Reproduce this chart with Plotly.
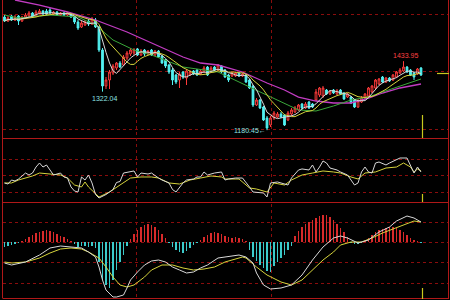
import plotly.graph_objects as go
import pandas as pd

# ---------------- data ----------------
open_ = [1596.2, 1581.5, 1599.9, 1585.2, 1599.9, 1581.5, 1592.6, 1599.9, 1610.9, 1599.9,
         1610.9, 1618.3, 1618.3, 1622.0, 1607.3, 1614.6, 1603.6, 1610.9, 1603.6, 1607.3,
         1596.2, 1577.9, 1559.5, 1566.9, 1581.5, 1570.5, 1585.2, 1559.5, 1475.0, 1342.7,
         1364.8, 1390.5, 1408.9, 1427.2, 1419.9, 1445.6, 1460.3, 1464.0, 1478.7, 1456.6,
         1475.0, 1460.3, 1475.0, 1456.6, 1471.3, 1453.0, 1438.3, 1419.9, 1401.5, 1383.1,
         1364.8, 1394.2, 1372.1, 1383.1, 1397.8, 1401.5, 1386.8, 1394.2, 1412.5, 1394.2,
         1412.5, 1401.5, 1416.2, 1401.5, 1383.1, 1379.5, 1379.5, 1390.5, 1379.5, 1383.1,
         1364.8, 1342.7, 1272.9, 1291.3, 1265.6, 1225.2, 1199.4, 1225.2, 1228.8, 1239.9,
         1236.2, 1217.8, 1239.9, 1247.2, 1254.6, 1276.6, 1261.9, 1283.9, 1276.6, 1291.3,
         1309.7, 1306.0, 1328.0, 1313.3, 1328.0, 1313.3, 1328.0, 1317.0, 1302.3, 1302.3,
         1291.3, 1265.6, 1283.9, 1298.6, 1306.0, 1320.7, 1335.4, 1350.1, 1375.8, 1357.4,
         1372.1, 1364.8, 1375.8, 1390.5, 1397.8, 1412.5, 1401.5, 1390.5, 1386.8, 1408.9]
high_ = [1603.6, 1599.9, 1603.6, 1603.6, 1603.6, 1599.9, 1610.9, 1618.3, 1614.6, 1622.0,
         1625.6, 1622.0, 1625.6, 1629.3, 1618.3, 1618.3, 1614.6, 1614.6, 1614.6, 1610.9,
         1599.9, 1585.2, 1581.5, 1585.2, 1588.9, 1596.2, 1592.6, 1563.2, 1482.3, 1375.8,
         1401.5, 1423.6, 1430.9, 1434.6, 1456.6, 1471.3, 1482.3, 1482.3, 1482.3, 1478.7,
         1478.7, 1475.0, 1478.7, 1475.0, 1475.0, 1456.6, 1441.9, 1423.6, 1408.9, 1386.8,
         1394.2, 1397.8, 1405.2, 1401.5, 1401.5, 1405.2, 1405.2, 1416.2, 1416.2, 1416.2,
         1416.2, 1423.6, 1419.9, 1405.2, 1386.8, 1394.2, 1394.2, 1394.2, 1390.5, 1386.8,
         1368.5, 1346.4, 1298.6, 1295.0, 1269.3, 1232.5, 1232.5, 1250.9, 1247.2, 1247.2,
         1239.9, 1250.9, 1261.9, 1269.3, 1276.6, 1280.3, 1283.9, 1287.6, 1280.3, 1331.7,
         1339.1, 1342.7, 1331.7, 1328.0, 1331.7, 1331.7, 1331.7, 1320.7, 1317.0, 1306.0,
         1295.0, 1295.0, 1306.0, 1317.0, 1339.1, 1346.4, 1368.5, 1372.1, 1379.5, 1375.8,
         1375.8, 1386.8, 1397.8, 1408.9, 1433.95, 1416.2, 1405.2, 1394.2, 1408.9, 1412.5]
low_ = [1577.9, 1577.9, 1581.5, 1581.5, 1566.9, 1577.9, 1588.9, 1596.2, 1596.2, 1596.2,
        1607.3, 1603.6, 1603.6, 1607.3, 1603.6, 1599.9, 1599.9, 1599.9, 1599.9, 1592.6,
        1570.5, 1548.5, 1555.8, 1563.2, 1563.2, 1566.9, 1555.8, 1467.6, 1322.04, 1331.7,
        1331.7, 1383.1, 1401.5, 1408.9, 1416.2, 1438.3, 1453.0, 1456.6, 1453.0, 1453.0,
        1453.0, 1456.6, 1453.0, 1453.0, 1445.6, 1423.6, 1408.9, 1386.8, 1346.4, 1350.1,
        1335.4, 1368.5, 1346.4, 1379.5, 1383.1, 1379.5, 1383.1, 1390.5, 1379.5, 1390.5,
        1397.8, 1397.8, 1390.5, 1372.1, 1357.4, 1375.8, 1375.8, 1375.8, 1375.8, 1353.8,
        1331.7, 1265.6, 1269.3, 1258.2, 1214.2, 1180.45, 1192.1, 1217.8, 1225.2, 1225.2,
        1195.8, 1214.2, 1232.5, 1243.5, 1250.9, 1254.6, 1258.2, 1258.2, 1261.9, 1287.6,
        1302.3, 1298.6, 1309.7, 1309.7, 1313.3, 1309.7, 1309.7, 1291.3, 1298.6, 1276.6,
        1261.9, 1261.9, 1280.3, 1295.0, 1302.3, 1317.0, 1331.7, 1346.4, 1353.8, 1353.8,
        1357.4, 1361.1, 1372.1, 1386.8, 1394.2, 1390.5, 1379.5, 1364.8, 1383.1, 1379.5]
close_ = [1581.5, 1592.6, 1585.2, 1596.2, 1581.5, 1596.2, 1603.6, 1610.9, 1599.9, 1614.6,
          1618.3, 1607.3, 1607.3, 1610.9, 1614.6, 1603.6, 1610.9, 1603.6, 1610.9, 1596.2,
          1577.9, 1555.8, 1574.2, 1577.9, 1570.5, 1588.9, 1559.5, 1475.0, 1342.7, 1364.8,
          1394.2, 1416.2, 1427.2, 1412.5, 1449.3, 1464.0, 1475.0, 1475.0, 1456.6, 1471.3,
          1460.3, 1471.3, 1456.6, 1471.3, 1449.3, 1427.2, 1416.2, 1394.2, 1364.8, 1357.4,
          1386.8, 1375.8, 1397.8, 1394.2, 1386.8, 1383.1, 1397.8, 1408.9, 1383.1, 1408.9,
          1401.5, 1419.9, 1394.2, 1375.8, 1364.8, 1390.5, 1390.5, 1379.5, 1386.8, 1357.4,
          1335.4, 1272.9, 1291.3, 1261.9, 1217.8, 1188.4, 1225.2, 1243.5, 1239.9, 1228.8,
          1199.4, 1243.5, 1254.6, 1261.9, 1272.9, 1261.9, 1276.6, 1261.9, 1265.6, 1320.7,
          1335.4, 1335.4, 1313.3, 1324.4, 1317.0, 1324.4, 1313.3, 1295.0, 1313.3, 1280.3,
          1265.6, 1287.6, 1298.6, 1313.3, 1335.4, 1342.7, 1364.8, 1368.5, 1357.4, 1372.1,
          1361.1, 1383.1, 1394.2, 1401.5, 1412.5, 1394.2, 1383.1, 1375.8, 1405.2, 1383.1]
idx = list(range(len(close_)))

# longer moving averages (they start before the window)
ma20_idx = [0, 4, 13, 21, 26, 31, 37, 42, 51, 61, 70, 78, 84, 89, 94, 99, 104, 108, 113, 119]
ma20_val = [1603.6, 1592.6, 1603.6, 1596.2, 1566.9, 1511.7, 1475.0, 1456.6, 1412.5, 1394.2,
            1339.1, 1291.3, 1254.6, 1250.9, 1269.3, 1291.3, 1302.3, 1320.7, 1342.7, 1368.5]
ma60_idx = [3, 10, 18, 26, 35, 42, 51, 56, 61, 68, 75, 80, 84, 89, 94, 99, 104, 108, 113, 119]
ma60_val = [1658.7, 1640.3, 1614.6, 1585.2, 1541.1, 1500.7, 1449.3, 1427.2, 1419.9, 1394.2,
            1353.8, 1328.0, 1302.3, 1287.6, 1280.3, 1280.3, 1298.6, 1317.0, 1335.4, 1350.1]

# oscillator panel
osc1_idx = [0, 1, 2, 3, 4, 6, 7, 8, 9, 10, 11, 12, 13, 14, 16, 17, 18, 19, 20, 21, 22, 23, 24,
            25, 26, 27, 29, 31, 32, 33, 34, 36, 37, 38, 39, 41, 42, 44, 45, 47, 48, 49, 51, 52,
            54, 55, 56, 57, 58, 60, 62, 63, 64, 66, 68, 70, 71, 74, 75, 76, 78, 79, 81, 82, 84,
            85, 87, 88, 89, 90, 91, 92, 93, 95, 96, 98, 99, 100, 101, 102, 103, 104, 105, 106,
            107, 109, 110, 112, 113, 115, 116, 117, 118, 119]
osc1_val = [35.5, 33.6, 40.9, 39.1, 42.7, 53.6, 50, 53.6, 64.5, 71.8, 64.5, 68.2, 59.1, 50,
            53.6, 46.4, 44.5, 28.2, 20.9, 19.1, 46.4, 40.9, 50, 35.5, 14.5, 8.2, 14.5, 23.6,
            36.4, 38.2, 53.6, 55.5, 57.3, 46.4, 53.6, 51.8, 53.6, 44.5, 40.9, 35.5, 23.6, 19.1,
            35.5, 40.9, 42.7, 46.4, 46.4, 55.5, 50, 53.6, 55.5, 40.9, 42.7, 44.5, 44.5, 28.2,
            19.1, 17.3, 10, 35.5, 37.3, 35.5, 31.8, 44.5, 59.1, 61, 59.1, 68.2, 55.5, 64.5,
            75.5, 71.8, 62.7, 59.1, 55.5, 50, 40.9, 31.8, 35.5, 55.5, 64.5, 55.5, 53.6, 71.8,
            73.6, 68.2, 71.8, 77.3, 80.9, 80.9, 68.2, 53.6, 64.5, 55.5]
osc2_idx = [0, 2, 4, 8, 10, 13, 16, 18, 20, 22, 23, 24, 27, 30, 33, 36, 39, 42, 44, 47, 50, 53,
            56, 59, 62, 63, 67, 70, 72, 75, 77, 80, 82, 85, 88, 91, 94, 96, 99, 101, 103, 106,
            109, 112, 114, 116, 117, 118, 119]
osc2_val = [35.5, 35.5, 40.9, 48.2, 53.6, 51.8, 50, 44.5, 31.8, 28.2, 37.3, 28.2, 10, 19.1,
            31.8, 44.5, 46.4, 46.4, 44.5, 35.5, 33.6, 40.9, 44.5, 48.2, 46.4, 42.7, 42.7, 26.4,
            24.5, 19.1, 35.5, 31.8, 40.9, 50, 53.6, 57.3, 55.5, 53.6, 46.4, 42.7, 53.6, 55.5,
            62.7, 64.5, 71.8, 64.5, 55.5, 60.9, 57.3]

# MACD panel
macd_hist = [-2.5, -2, -1.5, -1, -0.5, 0.5, 1.5, 2.5, 3.5, 4.5,
             5, 5.5, 6, 5.5, 5, 4, 3, 2.5, 1.5, 0.5,
             -1, -2.5, -2, -2, -2.5, -2, -3, -10, -19, -21.5,
             -23, -19, -14, -10, -6.5, -2, 1.5, 4, 6, 7.5,
             8.5, 9, 8.5, 7.5, 6, 4, 2, -0.5, -2.5, -4,
             -5, -5.5, -4.5, -3, -1.5, -0.5, 1, 2.5, 3.5, 4.5,
             5, 4.5, 4, 3, 2.5, 2, 2.5, 2, 1.5, 0.5,
             -4, -7.5, -9.5, -11.5, -13, -14.5, -15, -12, -10, -8,
             -6.5, -4, -2, 3, 5.5, 7.5, 9, 10, 11, 12,
             13, 13.5, 13.5, 12.5, 11, 9, 7, 5, 2.5, -0.5,
             -1, -1, -0.5, 0.5, 2, 3.5, 5, 6, 6.5, 7,
             7.5, 7.5, 7, 6, 5, 3.5, 2, 1, 0.5, -0.5]
dif_idx = [0, 2, 6, 10, 13, 16, 19, 22, 24, 26, 27, 28, 29, 31, 32, 34, 35, 36, 38, 40, 42, 44,
           46, 48, 50, 52, 54, 56, 58, 61, 63, 67, 69, 71, 72, 74, 76, 79, 82, 85, 88, 91, 94,
           96, 98, 101, 104, 107, 110, 112, 115, 117, 119]
dif_val = [-10.5, -11.5, -10, -6.5, -3, -2, -2.5, -3, -5, -7.5, -12.5, -19, -24, -27.5, -27.5,
           -26.5, -23, -19, -15, -11.5, -9.5, -9, -10, -12.5, -14, -15.5, -15, -13, -11.5, -8,
           -7.5, -6.5, -7.5, -10.5, -15.5, -21.5, -23.5, -23, -21.5, -16.5, -9, -2.5, 2, 3, 2,
           -0.5, 1, 5, 7.5, 10.5, 13, 12, 10]
dea_idx = [0, 2, 6, 10, 13, 16, 19, 22, 24, 27, 29, 31, 33, 35, 37, 40, 42, 45, 48, 51, 54, 57,
           60, 63, 68, 69, 72, 75, 79, 82, 85, 88, 91, 94, 96, 99, 102, 105, 108, 111, 114,
           117, 119]
dea_val = [-10, -10.5, -10, -8, -5.5, -3.5, -3, -3.5, -5, -8, -12.5, -17.5, -21.5, -22.5,
           -21.5, -17.5, -14, -11.5, -11.5, -13, -14, -13.5, -12.5, -10, -7.5, -8, -12.5,
           -16.5, -20, -21.5, -19, -14, -9, -5, -1.5, 0, 0, 2, 4.5, 6.5, 8.5, 10.5, 10]

# ---------------- figure ----------------
W, H = 450, 300
ma5 = pd.Series(close_).rolling(5, min_periods=1).mean()
ma10 = pd.Series(close_).rolling(10, min_periods=1).mean()

RED = "#ff3b3b"
CYAN = "#52f2f2"
WHITE = "#d8d8d8"
YEL = "#d6d43c"

fig = go.Figure()
fig.add_trace(go.Candlestick(
    x=idx, open=open_, high=high_, low=low_, close=close_,
    increasing=dict(line=dict(color=RED, width=1), fillcolor="black"),
    decreasing=dict(line=dict(color=CYAN, width=1), fillcolor=CYAN),
    whiskerwidth=0, xaxis="x", yaxis="y", hoverinfo="skip"))
fig.add_trace(go.Scatter(x=ma60_idx, y=ma60_val, mode="lines",
                         line=dict(color="#c23cc2", width=1.3), xaxis="x", yaxis="y"))
fig.add_trace(go.Scatter(x=ma20_idx, y=ma20_val, mode="lines",
                         line=dict(color="#3aa83a", width=1), xaxis="x", yaxis="y"))
fig.add_trace(go.Scatter(x=idx, y=ma10, mode="lines",
                         line=dict(color=YEL, width=1), xaxis="x", yaxis="y"))
fig.add_trace(go.Scatter(x=idx, y=ma5, mode="lines",
                         line=dict(color=WHITE, width=1), xaxis="x", yaxis="y"))

fig.add_trace(go.Scatter(x=osc2_idx, y=osc2_val, mode="lines",
                         line=dict(color=YEL, width=1), xaxis="x2", yaxis="y2"))
fig.add_trace(go.Scatter(x=osc1_idx, y=osc1_val, mode="lines",
                         line=dict(color=WHITE, width=1), xaxis="x2", yaxis="y2"))

fig.add_trace(go.Bar(x=idx, y=macd_hist, width=0.24,
                     marker=dict(color=["#d82a2a" if v > 0 else "#3ccaca" for v in macd_hist],
                                 line=dict(width=0)),
                     xaxis="x3", yaxis="y3"))
fig.add_trace(go.Scatter(x=dea_idx, y=dea_val, mode="lines",
                         line=dict(color=YEL, width=1), xaxis="x3", yaxis="y3"))
fig.add_trace(go.Scatter(x=dif_idx, y=dif_val, mode="lines",
                         line=dict(color=WHITE, width=1), xaxis="x3", yaxis="y3"))


def py(p):
    return 1 - p / H


def px(p):
    return p / W


x0px, dx = 4.5, 3.5
xr = [-x0px / dx, (W - x0px) / dx]

shapes = []
GRID = "#8a0d0d"
SOLID = "#b01818"
for yy in [14, 71, 129, 159, 175, 192, 222, 242, 262, 283]:
    shapes.append(dict(type="line", xref="paper", yref="paper", x0=px(3), x1=px(449),
                       y0=py(yy + 0.5), y1=py(yy + 0.5), layer="below",
                       line=dict(color=GRID, width=1, dash="dot")))
for yy in [138, 202, 298]:
    shapes.append(dict(type="line", xref="paper", yref="paper", x0=px(3), x1=px(449),
                       y0=py(yy + 0.5), y1=py(yy + 0.5), layer="below",
                       line=dict(color=SOLID, width=1)))
for xx in [136.5, 271.5]:
    shapes.append(dict(type="line", xref="paper", yref="paper", x0=px(xx), x1=px(xx),
                       y0=py(0), y1=py(298), layer="below",
                       line=dict(color=GRID, width=1, dash="dot")))
for xx in [2.5, 448.5]:
    shapes.append(dict(type="line", xref="paper", yref="paper", x0=px(xx), x1=px(xx),
                       y0=py(0), y1=py(298.5), layer="below",
                       line=dict(color=SOLID, width=1)))
for (a, b) in [(115, 138), (194, 202), (288, 299)]:
    shapes.append(dict(type="line", xref="paper", yref="paper", x0=px(422.5), x1=px(422.5),
                       y0=py(a), y1=py(b), line=dict(color="#c8c81e", width=1.2)))
shapes.append(dict(type="line", xref="paper", yref="paper", x0=px(437), x1=px(449),
                   y0=py(73.5), y1=py(73.5), line=dict(color="#c8c81e", width=1.2)))

annotations = [
    dict(x=28, y=1322.04, xref="x", yref="y", text="1322.04", showarrow=False,
         xanchor="center", yanchor="top", xshift=1.5, yshift=-1,
         font=dict(size=7, color="#8fe3e3", family="Liberation Sans")),
    dict(x=75, y=1180.45, xref="x", yref="y", text="1180.45\u2190", showarrow=False,
         xanchor="right", yanchor="middle", xshift=1,
         font=dict(size=7, color="#8fe3e3", family="Liberation Sans")),
    dict(x=114, y=1433.95, xref="x", yref="y", text="1433.95", showarrow=False,
         xanchor="center", yanchor="bottom", xshift=1.5, yshift=0,
         font=dict(size=7, color="#ff4040", family="Liberation Sans")),
]

fig.update_layout(
    width=W, height=H, margin=dict(l=0, r=0, t=0, b=0),
    paper_bgcolor="black", plot_bgcolor="rgba(0,0,0,0)", showlegend=False,
    bargap=0,
    xaxis=dict(domain=[0, 1], range=xr, visible=False, anchor="y",
               rangeslider=dict(visible=False)),
    xaxis2=dict(domain=[0, 1], range=xr, visible=False, anchor="y2"),
    xaxis3=dict(domain=[0, 1], range=xr, visible=False, anchor="y3"),
    yaxis=dict(domain=[py(138), 1], range=[1151.7, 1658.7], visible=False, anchor="x"),
    yaxis2=dict(domain=[py(202), py(138)], range=[0.91, 117.27], visible=False, anchor="x2"),
    yaxis3=dict(domain=[py(298), py(202)], range=[-28, 20], visible=False, anchor="x3"),
    shapes=shapes, annotations=annotations,
)

fig.write_html("out.html", config=dict(displayModeBar=False))
